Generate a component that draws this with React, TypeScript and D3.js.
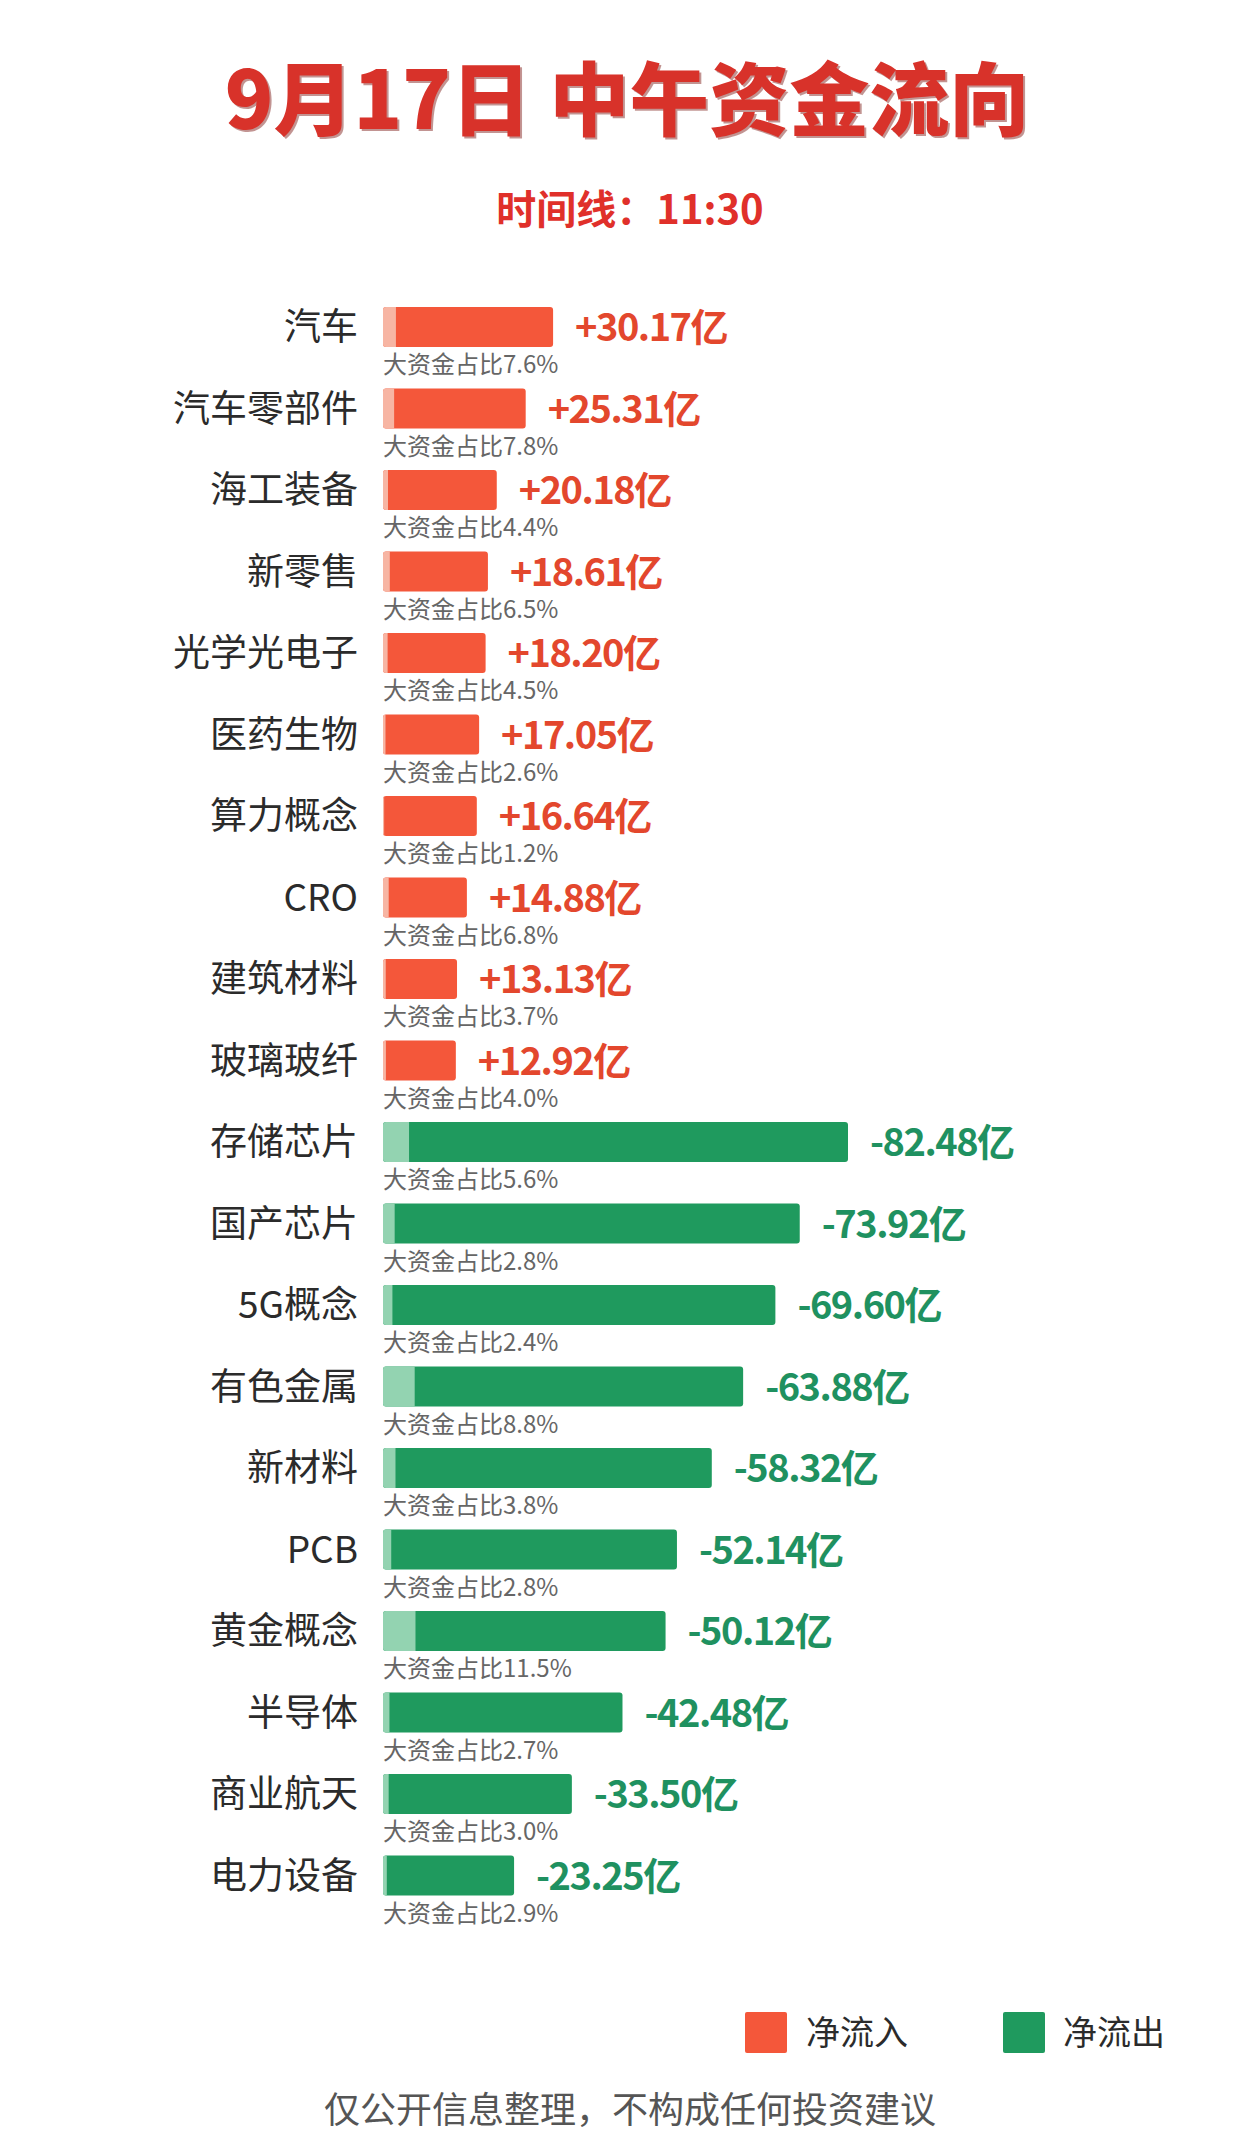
import React from "react";
import * as d3 from "d3";

const categories = ["汽车","汽车零部件","海工装备","新零售","光学光电子","医药生物","算力概念","CRO","建筑材料","玻璃玻纤","存储芯片","国产芯片","5G概念","有色金属","新材料","PCB","黄金概念","半导体","商业航天","电力设备"];
const netFlows = [30.17,25.31,20.18,18.61,18.20,17.05,16.64,14.88,13.13,12.92,-82.48,-73.92,-69.60,-63.88,-58.32,-52.14,-50.12,-42.48,-33.50,-23.25];
const bigShare = [7.6,7.8,4.4,6.5,4.5,2.6,1.2,6.8,3.7,4.0,5.6,2.8,2.4,8.8,3.8,2.8,11.5,2.7,3.0,2.9];
const legendLabels = ["净流入","净流出"];
const titleText = "9月17日 中午资金流向";
const subtitleText = "时间线：11:30";
const footerText = "仅公开信息整理，不构成任何投资建议";

const W = 1253, H = 2139;
const RED = "#F4573A", RED_LIGHT = "#F7B5A3", RED_TEXT = "#E3472D";
const GREEN = "#1F9A5E", GREEN_LIGHT = "#93D3B1", GREEN_TEXT = "#1F9160";
const FONT = "'Noto Sans CJK SC', 'Noto Sans', sans-serif";

export default function App() {
  const x = d3.scaleLinear().domain([0, d3.max(netFlows, v => Math.abs(v)) as number]).range([383, 848]);
  const y = d3.scalePoint<string>().domain(categories).range([327, 1875.5]);
  const barH = 40;
  return (
    <svg width={W} height={H} style={{ position: "absolute", left: 0, top: 0, background: "#fff" }} fontFamily={FONT}>
      <rect x={0} y={0} width={W} height={H} fill="#fff" />
      <text x={629} y={131} textAnchor="middle" fontSize={80} fontWeight={900} fill="#7a1510" opacity={0.45}>{titleText}</text>
      <text x={627} y={129} textAnchor="middle" fontSize={80} fontWeight={900} fill="#D8322A">{titleText}</text>
      <text x={630} y={224} textAnchor="middle" fontSize={40} fontWeight={700} fill="#E0302A">{subtitleText}</text>
      {categories.map((c, i) => {
        const v = netFlows[i];
        const pos = v >= 0;
        const cy = y(c) as number;
        const x0 = x(0);
        const x1 = x(Math.abs(v));
        const w = x1 - x0;
        const lw = w * bigShare[i] / 100;
        return (
          <g key={c}>
            <text x={358} y={cy + 13} textAnchor="end" fontSize={37} fill="#2b2b2b">{c}</text>
            <rect x={x0} y={cy - barH / 2} width={w} height={barH} rx={3} fill={pos ? RED : GREEN} />
            <path d={`M${x0 + 3},${cy - barH / 2} H${x0 + lw} V${cy + barH / 2} H${x0 + 3} A3,3 0 0 1 ${x0},${cy + barH / 2 - 3} V${cy - barH / 2 + 3} A3,3 0 0 1 ${x0 + 3},${cy - barH / 2} Z`} fill={pos ? RED_LIGHT : GREEN_LIGHT} />
            <text x={x1 + 22} y={cy + 14} fontSize={38} fontWeight={700} letterSpacing={-1.5} fill={pos ? RED_TEXT : GREEN_TEXT}>{(pos ? "+" : "") + v.toFixed(2) + "亿"}</text>
            <text x={x0} y={cy + 46} fontSize={24} fill="#666">{"大资金占比" + bigShare[i].toFixed(1) + "%"}</text>
          </g>
        );
      })}
      {legendLabels.map((l, i) => (
        <g key={l}>
          <rect x={745 + i * 258} y={2012} width={42} height={41} rx={2} fill={i === 0 ? RED : GREEN} />
          <text x={806 + i * 257} y={2045} fontSize={34} fill="#2b2b2b">{l}</text>
        </g>
      ))}
      <text x={630} y={2123} textAnchor="middle" fontSize={36} fill="#555">{footerText}</text>
    </svg>
  );
}
